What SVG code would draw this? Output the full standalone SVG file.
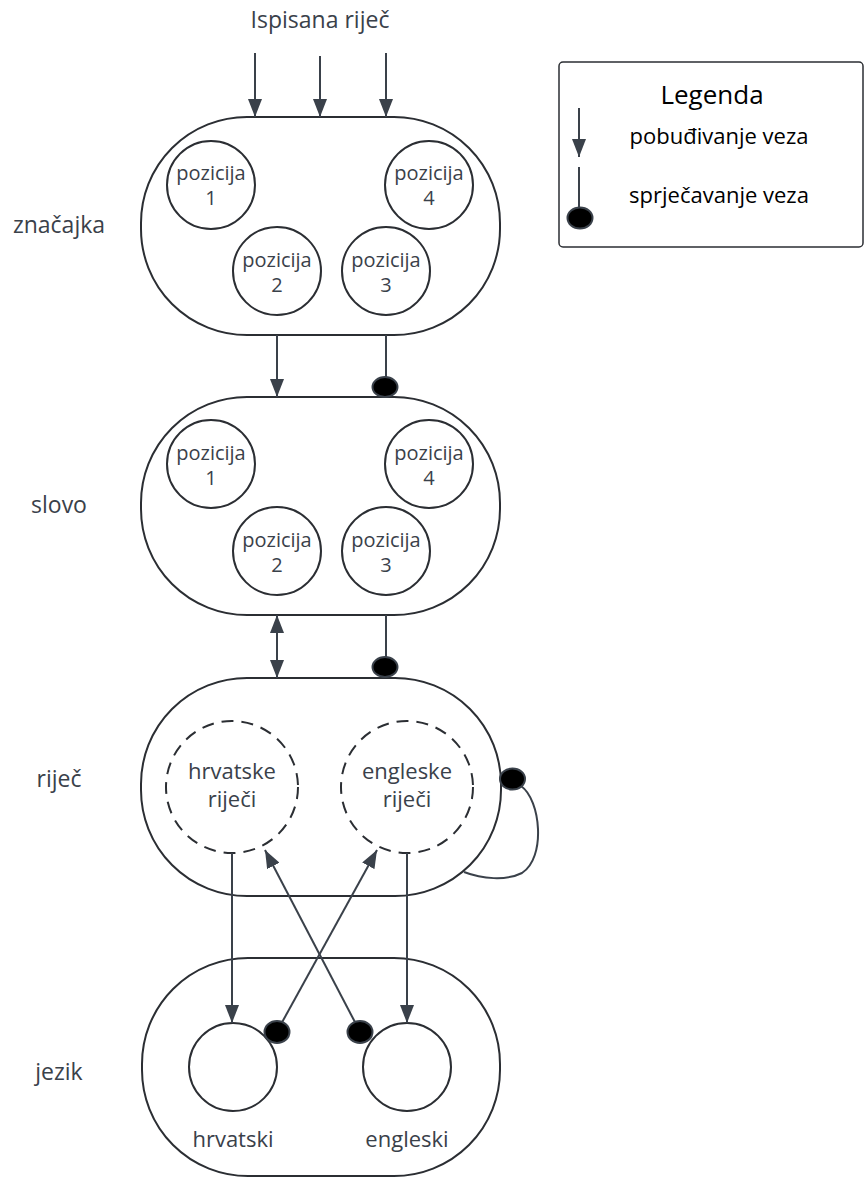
<svg xmlns="http://www.w3.org/2000/svg" width="865" height="1184" viewBox="0 0 865 1184">
<style>
.bg{fill:#ffffff}
.node{fill:#ffffff;stroke:#2b2e33;stroke-width:2}
.circ{fill:#ffffff;stroke:#2b2e33;stroke-width:2}
.dash{fill:#ffffff;stroke:#2b2e33;stroke-width:2;stroke-dasharray:12 8}
.t{font-family:"Open Sans","Liberation Sans",sans-serif;fill:#3a414a;text-anchor:middle}
.s20{font-size:20px}
.s22{font-size:22px}
.s23{font-size:23px}
.lg{font-family:"Open Sans","Liberation Sans",sans-serif;fill:#000000;text-anchor:middle}
.edge{fill:none;stroke:#3a414a;stroke-width:2}
.dot{fill:#000000;stroke:#3a414a;stroke-width:2}
</style>
<defs>
<marker id="arr" markerUnits="userSpaceOnUse" markerWidth="18" markerHeight="14" refX="18" refY="7" orient="auto-start-reverse" viewBox="0 0 18 14">
<path d="M0,0 L18,7 L0,14 z" fill="#3a414a"/>
</marker>
</defs>
<rect class="bg" x="0" y="0" width="865" height="1184"/>

<text class="t s23" x="320" y="28">Ispisana riječ</text>

<g id="znacajka">
<rect class="node" x="141" y="117" width="359" height="218" rx="106" ry="106"/>
<text class="t s23" x="59" y="233">značajka</text>
<circle class="circ" cx="211" cy="185" r="44"/>
<text class="t s20" x="211" y="180">pozicija</text><text class="t s20" x="211" y="205">1</text>
<circle class="circ" cx="429" cy="185" r="44"/>
<text class="t s20" x="429" y="180">pozicija</text><text class="t s20" x="429" y="205">4</text>
<circle class="circ" cx="277" cy="271" r="44"/>
<text class="t s20" x="277" y="267">pozicija</text><text class="t s20" x="277" y="292">2</text>
<circle class="circ" cx="386" cy="271" r="44"/>
<text class="t s20" x="386" y="267">pozicija</text><text class="t s20" x="386" y="292">3</text>
</g>

<g id="slovo">
<rect class="node" x="141" y="397" width="359" height="218" rx="106" ry="106"/>
<text class="t s23" x="59" y="513">slovo</text>
<circle class="circ" cx="211" cy="464" r="44"/>
<text class="t s20" x="211" y="460">pozicija</text><text class="t s20" x="211" y="485">1</text>
<circle class="circ" cx="429" cy="464" r="44"/>
<text class="t s20" x="429" y="460">pozicija</text><text class="t s20" x="429" y="485">4</text>
<circle class="circ" cx="277" cy="551" r="44"/>
<text class="t s20" x="277" y="547">pozicija</text><text class="t s20" x="277" y="572">2</text>
<circle class="circ" cx="386" cy="551" r="44"/>
<text class="t s20" x="386" y="547">pozicija</text><text class="t s20" x="386" y="572">3</text>
</g>

<g id="rijec">
<rect class="node" x="141" y="678" width="360" height="218" rx="106" ry="106"/>
<text class="t s23" x="59" y="787">riječ</text>
<circle class="dash" cx="232" cy="787" r="66"/>
<text class="t s22" x="232" y="779">hrvatske</text><text class="t s22" x="232" y="807">riječi</text>
<circle class="dash" cx="407" cy="787" r="66"/>
<text class="t s22" x="407" y="779">engleske</text><text class="t s22" x="407" y="807">riječi</text>
</g>

<g id="jezik">
<rect class="node" x="142" y="958" width="358" height="218" rx="106" ry="106"/>
<text class="t s23" x="59" y="1080">jezik</text>
<circle class="circ" cx="233" cy="1067" r="44"/>
<text class="t s22" x="233" y="1147">hrvatski</text>
<circle class="circ" cx="407" cy="1067" r="44"/>
<text class="t s22" x="407" y="1147">engleski</text>
</g>

<g id="legenda">
<rect x="559" y="62" width="304" height="185" rx="4" ry="4" fill="#ffffff" stroke="#2b2e33" stroke-width="1.5"/>
<text class="lg" x="712" y="104" font-size="26px">Legenda</text>
<line class="edge" x1="579" y1="108" x2="579" y2="157" marker-end="url(#arr)"/>
<text class="lg" x="719" y="144" font-size="22px">pobuđivanje veza</text>
<line class="edge" x1="579" y1="167" x2="579" y2="212"/>
<ellipse class="dot" cx="580" cy="218" rx="12.5" ry="10.5"/>
<text class="lg" x="719" y="203" font-size="22px">sprječavanje veza</text>
</g>

<g id="connectors">
<line class="edge" x1="255" y1="53" x2="255" y2="117" marker-end="url(#arr)"/>
<line class="edge" x1="320" y1="56" x2="320" y2="117" marker-end="url(#arr)"/>
<line class="edge" x1="386" y1="53" x2="386" y2="117" marker-end="url(#arr)"/>

<line class="edge" x1="277" y1="335" x2="277" y2="397" marker-end="url(#arr)"/>
<line class="edge" x1="386" y1="335" x2="386" y2="380"/>
<ellipse class="dot" cx="385" cy="387" rx="12.5" ry="10"/>

<line class="edge" x1="277" y1="615" x2="277" y2="678" marker-start="url(#arr)" marker-end="url(#arr)"/>
<line class="edge" x1="386" y1="615" x2="386" y2="660"/>
<ellipse class="dot" cx="385" cy="667" rx="12.5" ry="10"/>

<path class="edge" d="M521 786 C541 800, 546 858, 522 873 C506 881, 482 879, 464 872"/>
<ellipse class="dot" cx="512.5" cy="779" rx="12.5" ry="10.5"/>

<line class="edge" x1="232" y1="853" x2="232" y2="1023" marker-end="url(#arr)"/>
<line class="edge" x1="407" y1="853" x2="407" y2="1023" marker-end="url(#arr)"/>
<line class="edge" x1="280" y1="1026" x2="377" y2="850" marker-end="url(#arr)"/>
<line class="edge" x1="357" y1="1026" x2="265" y2="850" marker-end="url(#arr)"/>
<ellipse class="dot" cx="277" cy="1032" rx="12.5" ry="11"/>
<ellipse class="dot" cx="360" cy="1032" rx="12.5" ry="11"/>
</g>
</svg>
